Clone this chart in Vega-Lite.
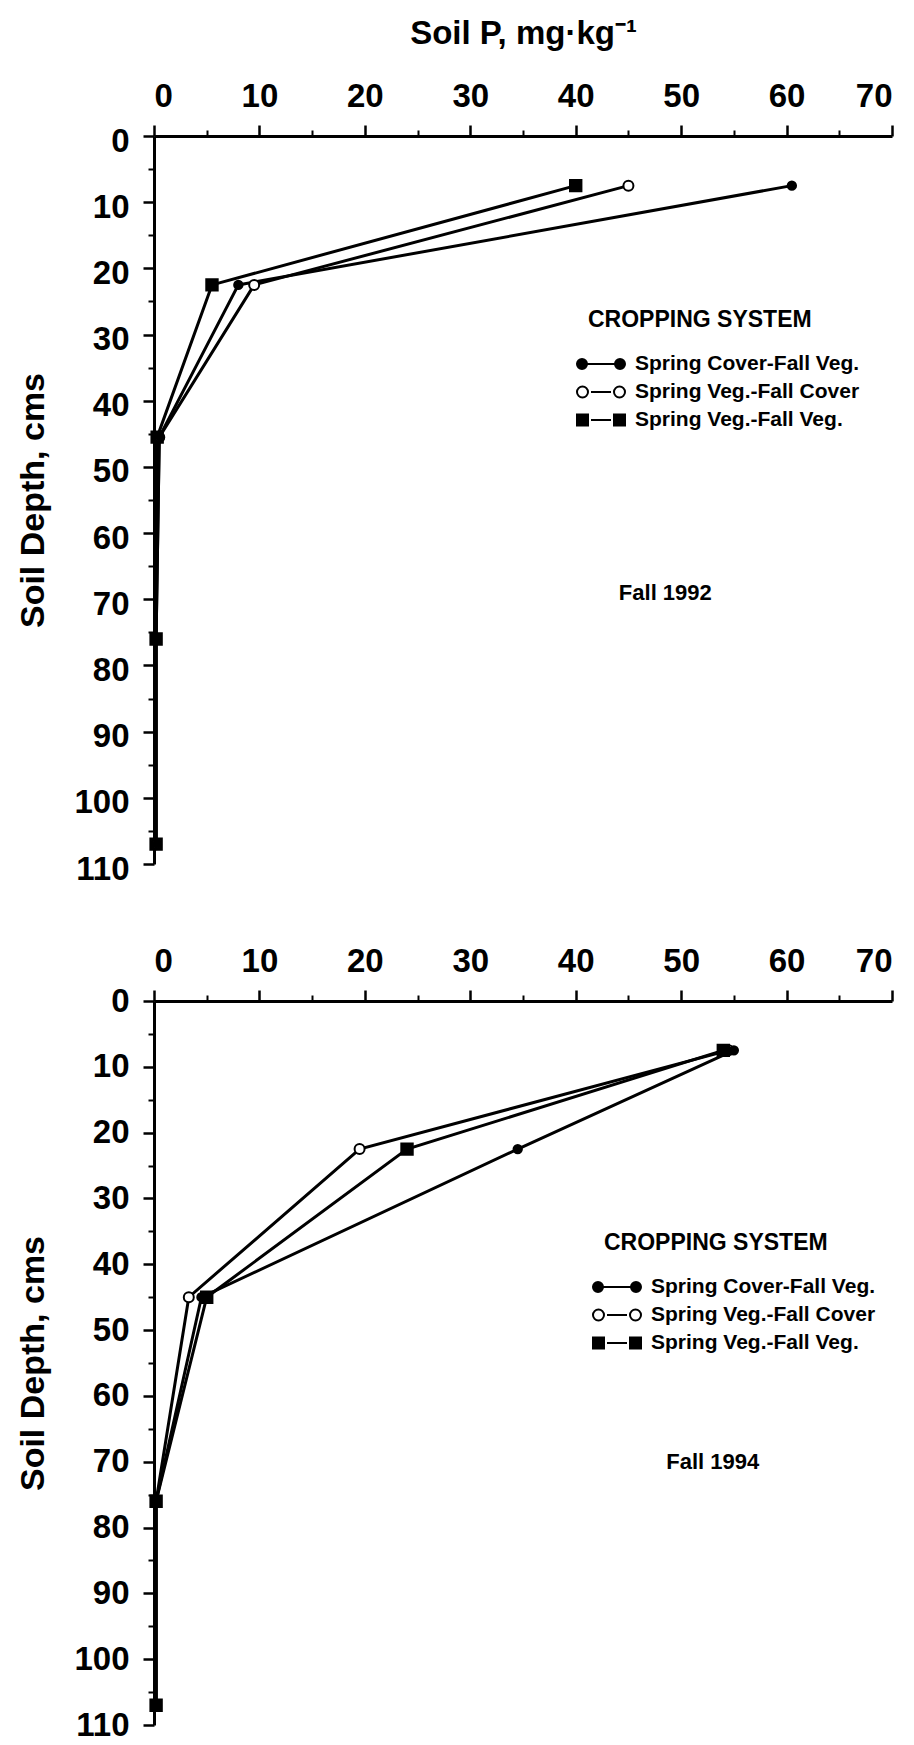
{
  "$schema": "https://vega.github.io/schema/vega-lite/v6.json",
  "background": "white",
  "padding": {"left": 16, "top": 17, "right": 5, "bottom": 0},
  "spacing": 59,
  "datasets": {
    "fall1992": [
      {"series": "Spring Cover-Fall Veg.", "p": 60.5, "depth": 7.5},
      {"series": "Spring Cover-Fall Veg.", "p": 8, "depth": 22.5},
      {"series": "Spring Cover-Fall Veg.", "p": 0.5, "depth": 45.5},
      {"series": "Spring Cover-Fall Veg.", "p": 0.2, "depth": 76},
      {"series": "Spring Cover-Fall Veg.", "p": 0.2, "depth": 107},
      {"series": "Spring Veg.-Fall Cover", "p": 45, "depth": 7.5},
      {"series": "Spring Veg.-Fall Cover", "p": 9.5, "depth": 22.5},
      {"series": "Spring Veg.-Fall Cover", "p": 0.5, "depth": 45.5},
      {"series": "Spring Veg.-Fall Cover", "p": 0.2, "depth": 76},
      {"series": "Spring Veg.-Fall Cover", "p": 0.2, "depth": 107},
      {"series": "Spring Veg.-Fall Veg.", "p": 40, "depth": 7.5},
      {"series": "Spring Veg.-Fall Veg.", "p": 5.5, "depth": 22.5},
      {"series": "Spring Veg.-Fall Veg.", "p": 0.3, "depth": 45.5},
      {"series": "Spring Veg.-Fall Veg.", "p": 0.2, "depth": 76},
      {"series": "Spring Veg.-Fall Veg.", "p": 0.2, "depth": 107}
    ],
    "fall1994": [
      {"series": "Spring Cover-Fall Veg.", "p": 55, "depth": 7.5},
      {"series": "Spring Cover-Fall Veg.", "p": 34.5, "depth": 22.5},
      {"series": "Spring Cover-Fall Veg.", "p": 4.5, "depth": 45},
      {"series": "Spring Cover-Fall Veg.", "p": 0.2, "depth": 76},
      {"series": "Spring Cover-Fall Veg.", "p": 0.2, "depth": 107},
      {"series": "Spring Veg.-Fall Cover", "p": 54.5, "depth": 7.5},
      {"series": "Spring Veg.-Fall Cover", "p": 19.5, "depth": 22.5},
      {"series": "Spring Veg.-Fall Cover", "p": 3.3, "depth": 45},
      {"series": "Spring Veg.-Fall Cover", "p": 0.2, "depth": 76},
      {"series": "Spring Veg.-Fall Cover", "p": 0.2, "depth": 107},
      {"series": "Spring Veg.-Fall Veg.", "p": 54, "depth": 7.5},
      {"series": "Spring Veg.-Fall Veg.", "p": 24, "depth": 22.5},
      {"series": "Spring Veg.-Fall Veg.", "p": 5, "depth": 45},
      {"series": "Spring Veg.-Fall Veg.", "p": 0.2, "depth": 76},
      {"series": "Spring Veg.-Fall Veg.", "p": 0.2, "depth": 107}
    ]
  },
  "vconcat": [
    {
      "width": 738,
      "height": 728,
      "data": {"name": "fall1992"},
      "resolve": {"axis": {"x": "independent", "y": "independent"}},
      "layer": [
        {
          "mark": {"type": "line", "stroke": "black", "strokeWidth": 3},
          "encoding": {
            "x": {"field": "p", "type": "quantitative", "scale": {"domain": [0, 70], "nice": false, "zero": false},
              "axis": {"orient": "top", "values": [0, 10, 20, 30, 40, 50, 60, 70], "tickSize": 11, "tickWidth": 2.5, "domainWidth": 3, "labelFontSize": 33, "labelFontWeight": "bold", "labelPadding": 12, "title": "Soil P, mg·kg⁻¹", "titleFontSize": 33, "titleFontWeight": "bold", "titlePadding": 30, "grid": false}},
            "y": {"field": "depth", "type": "quantitative", "scale": {"domain": [0, 110], "reverse": true, "nice": false, "zero": false},
              "axis": {"orient": "left", "values": [0, 10, 20, 30, 40, 50, 60, 70, 80, 90, 100, 110], "tickSize": 11, "tickWidth": 2.5, "domainWidth": 3, "labelFontSize": 33, "labelFontWeight": "bold", "labelPadding": 14, "labelOffset": 5, "title": "Soil Depth, cms", "titleFontSize": 34, "titleFontWeight": "bold", "titlePadding": 23, "grid": false}},
            "detail": {"field": "series"},
            "order": {"field": "depth", "type": "quantitative"}
          }
        },
        {
          "transform": [{"filter": "datum.series == 'Spring Veg.-Fall Veg.'"}],
          "mark": {"type": "point", "shape": "square", "filled": true, "fill": "black", "stroke": "black", "size": 130, "opacity": 1},
          "encoding": {
            "x": {"field": "p", "type": "quantitative", "axis": {"orient": "top", "values": [5, 15, 25, 35, 45, 55, 65], "labels": false, "domain": false, "tickSize": 6, "tickWidth": 2, "title": null, "grid": false}},
            "y": {"field": "depth", "type": "quantitative", "axis": {"orient": "left", "values": [5, 15, 25, 35, 45, 55, 65, 75, 85, 95, 105], "labels": false, "domain": false, "tickSize": 6, "tickWidth": 2, "title": null, "grid": false}}
          }
        },
        {
          "transform": [{"filter": "datum.series == 'Spring Veg.-Fall Cover'"}],
          "mark": {"type": "point", "shape": "circle", "filled": true, "fill": "white", "stroke": "black", "strokeWidth": 2, "size": 100, "opacity": 1},
          "encoding": {
            "x": {"field": "p", "type": "quantitative", "axis": null},
            "y": {"field": "depth", "type": "quantitative", "axis": null}
          }
        },
        {
          "transform": [{"filter": "datum.series == 'Spring Cover-Fall Veg.'"}],
          "mark": {"type": "point", "shape": "circle", "filled": true, "fill": "black", "stroke": "black", "size": 70, "opacity": 1},
          "encoding": {
            "x": {"field": "p", "type": "quantitative", "axis": null},
            "y": {"field": "depth", "type": "quantitative", "axis": null}
          }
        },
        {
          "data": {"values": [{"label": "Fall 1992"}]},
          "mark": {"type": "text", "fontSize": 22, "fontWeight": "bold", "color": "black", "align": "center", "baseline": "middle"},
          "encoding": {
            "text": {"field": "label"},
            "x": {"datum": 48.5, "type": "quantitative", "axis": null},
            "y": {"datum": 69, "type": "quantitative", "axis": null}
          }
        },
        {
          "transform": [{"filter": "false"}],
          "mark": {"type": "point", "filled": true, "stroke": "black", "strokeWidth": 2, "opacity": 1},
          "encoding": {
            "shape": {"field": "series", "type": "nominal",
              "scale": {"domain": ["Spring Cover-Fall Veg.", "Spring Veg.-Fall Cover", "Spring Veg.-Fall Veg."],
                "range": [
                  "M-2.2,0A0.5,0.5,0,1,0,-1.2,0A0.5,0.5,0,1,0,-2.2,0ZM-1.2,0H1.6M1.6,0A0.5,0.5,0,1,0,2.6,0A0.5,0.5,0,1,0,1.6,0Z",
                  "M-2.2,0A0.55,0.55,0,1,0,-1.1,0A0.55,0.55,0,1,0,-2.2,0ZM-0.8,0H1.2M1.5,0A0.55,0.55,0,1,0,2.6,0A0.55,0.55,0,1,0,1.5,0Z",
                  "M-2.2,-0.55H-1.1V0.55H-2.2ZM-0.8,0H1.2M1.5,-0.55H2.6V0.55H1.5Z"
                ]},
              "legend": {"title": "CROPPING SYSTEM", "orient": "none", "legendX": 434, "legendY": 173,
                "encode": {"symbols": {"update": {"stroke": {"value": "black"}, "strokeWidth": {"value": 2}}}}}},
            "fill": {"field": "series", "type": "nominal",
              "scale": {"domain": ["Spring Cover-Fall Veg.", "Spring Veg.-Fall Cover", "Spring Veg.-Fall Veg."], "range": ["black", "white", "black"]},
              "legend": {"title": "CROPPING SYSTEM", "orient": "none", "legendX": 434, "legendY": 173,
                "encode": {"symbols": {"update": {"stroke": {"value": "black"}, "strokeWidth": {"value": 2}}}}}},
            "stroke": {"field": "series", "type": "nominal",
              "scale": {"domain": ["Spring Cover-Fall Veg.", "Spring Veg.-Fall Cover", "Spring Veg.-Fall Veg."], "range": ["black", "black", "black"]},
              "legend": {"title": "CROPPING SYSTEM", "orient": "none", "legendX": 434, "legendY": 173,
                "encode": {"symbols": {"update": {"stroke": {"value": "black"}, "strokeWidth": {"value": 2}}}}}}
          }
        }
      ]
    },
    {
      "width": 738,
      "height": 724,
      "data": {"name": "fall1994"},
      "resolve": {"axis": {"x": "independent", "y": "independent"}},
      "layer": [
        {
          "mark": {"type": "line", "stroke": "black", "strokeWidth": 3},
          "encoding": {
            "x": {"field": "p", "type": "quantitative", "scale": {"domain": [0, 70], "nice": false, "zero": false},
              "axis": {"orient": "top", "values": [0, 10, 20, 30, 40, 50, 60, 70], "tickSize": 11, "tickWidth": 2.5, "domainWidth": 3, "labelFontSize": 33, "labelFontWeight": "bold", "labelPadding": 12, "title": null, "grid": false}},
            "y": {"field": "depth", "type": "quantitative", "scale": {"domain": [0, 110], "reverse": true, "nice": false, "zero": false},
              "axis": {"orient": "left", "values": [0, 10, 20, 30, 40, 50, 60, 70, 80, 90, 100, 110], "tickSize": 11, "tickWidth": 2.5, "domainWidth": 3, "labelFontSize": 33, "labelFontWeight": "bold", "labelPadding": 14, "labelOffset": 0, "title": "Soil Depth, cms", "titleFontSize": 34, "titleFontWeight": "bold", "titlePadding": 23, "grid": false}},
            "detail": {"field": "series"},
            "order": {"field": "depth", "type": "quantitative"}
          }
        },
        {
          "transform": [{"filter": "datum.series == 'Spring Veg.-Fall Cover'"}],
          "mark": {"type": "point", "shape": "circle", "filled": true, "fill": "white", "stroke": "black", "strokeWidth": 2, "size": 100, "opacity": 1},
          "encoding": {
            "x": {"field": "p", "type": "quantitative", "axis": {"orient": "top", "values": [5, 15, 25, 35, 45, 55, 65], "labels": false, "domain": false, "tickSize": 6, "tickWidth": 2, "title": null, "grid": false}},
            "y": {"field": "depth", "type": "quantitative", "axis": {"orient": "left", "values": [5, 15, 25, 35, 45, 55, 65, 75, 85, 95, 105], "labels": false, "domain": false, "tickSize": 6, "tickWidth": 2, "title": null, "grid": false}}
          }
        },
        {
          "transform": [{"filter": "datum.series == 'Spring Veg.-Fall Veg.'"}],
          "mark": {"type": "point", "shape": "square", "filled": true, "fill": "black", "stroke": "black", "size": 130, "opacity": 1},
          "encoding": {
            "x": {"field": "p", "type": "quantitative", "axis": null},
            "y": {"field": "depth", "type": "quantitative", "axis": null}
          }
        },
        {
          "transform": [{"filter": "datum.series == 'Spring Cover-Fall Veg.'"}],
          "mark": {"type": "point", "shape": "circle", "filled": true, "fill": "black", "stroke": "black", "size": 70, "opacity": 1},
          "encoding": {
            "x": {"field": "p", "type": "quantitative", "axis": null},
            "y": {"field": "depth", "type": "quantitative", "axis": null}
          }
        },
        {
          "data": {"values": [{"label": "Fall 1994"}]},
          "mark": {"type": "text", "fontSize": 22, "fontWeight": "bold", "color": "black", "align": "center", "baseline": "middle"},
          "encoding": {
            "text": {"field": "label"},
            "x": {"datum": 53, "type": "quantitative", "axis": null},
            "y": {"datum": 70, "type": "quantitative", "axis": null}
          }
        },
        {
          "transform": [{"filter": "false"}],
          "mark": {"type": "point", "filled": true, "stroke": "black", "strokeWidth": 2, "opacity": 1},
          "encoding": {
            "shape": {"field": "series", "type": "nominal",
              "scale": {"domain": ["Spring Cover-Fall Veg.", "Spring Veg.-Fall Cover", "Spring Veg.-Fall Veg."],
                "range": [
                  "M-2.2,0A0.5,0.5,0,1,0,-1.2,0A0.5,0.5,0,1,0,-2.2,0ZM-1.2,0H1.6M1.6,0A0.5,0.5,0,1,0,2.6,0A0.5,0.5,0,1,0,1.6,0Z",
                  "M-2.2,0A0.55,0.55,0,1,0,-1.1,0A0.55,0.55,0,1,0,-2.2,0ZM-0.8,0H1.2M1.5,0A0.55,0.55,0,1,0,2.6,0A0.55,0.55,0,1,0,1.5,0Z",
                  "M-2.2,-0.55H-1.1V0.55H-2.2ZM-0.8,0H1.2M1.5,-0.55H2.6V0.55H1.5Z"
                ]},
              "legend": {"title": "CROPPING SYSTEM", "orient": "none", "legendX": 450, "legendY": 231,
                "encode": {"symbols": {"update": {"stroke": {"value": "black"}, "strokeWidth": {"value": 2}}}}}},
            "fill": {"field": "series", "type": "nominal",
              "scale": {"domain": ["Spring Cover-Fall Veg.", "Spring Veg.-Fall Cover", "Spring Veg.-Fall Veg."], "range": ["black", "white", "black"]},
              "legend": {"title": "CROPPING SYSTEM", "orient": "none", "legendX": 450, "legendY": 231,
                "encode": {"symbols": {"update": {"stroke": {"value": "black"}, "strokeWidth": {"value": 2}}}}}},
            "stroke": {"field": "series", "type": "nominal",
              "scale": {"domain": ["Spring Cover-Fall Veg.", "Spring Veg.-Fall Cover", "Spring Veg.-Fall Veg."], "range": ["black", "black", "black"]},
              "legend": {"title": "CROPPING SYSTEM", "orient": "none", "legendX": 450, "legendY": 231,
                "encode": {"symbols": {"update": {"stroke": {"value": "black"}, "strokeWidth": {"value": 2}}}}}}
          }
        }
      ]
    }
  ],
  "resolve": {"scale": {"shape": "independent", "fill": "independent", "stroke": "independent"}, "legend": {"shape": "independent", "fill": "independent", "stroke": "independent"}},
  "config": {
    "font": "Liberation Sans",
    "view": {"stroke": null},
    "axis": {"domainColor": "black", "tickColor": "black", "labelColor": "black", "titleColor": "black", "labelFont": "Liberation Sans", "titleFont": "Liberation Sans"},
    "legend": {
      "padding": 0,
      "titleFontSize": 23, "titleFontWeight": "bold", "titleColor": "black", "titlePadding": 21, "titleLimit": 400,
      "labelFontSize": 21, "labelFontWeight": "bold", "labelColor": "black", "labelLimit": 400, "labelOffset": 25,
      "symbolSize": 400, "symbolStrokeColor": "black", "symbolStrokeWidth": 2, "rowPadding": 7
    },
    "text": {"font": "Liberation Sans"}
  }
}
